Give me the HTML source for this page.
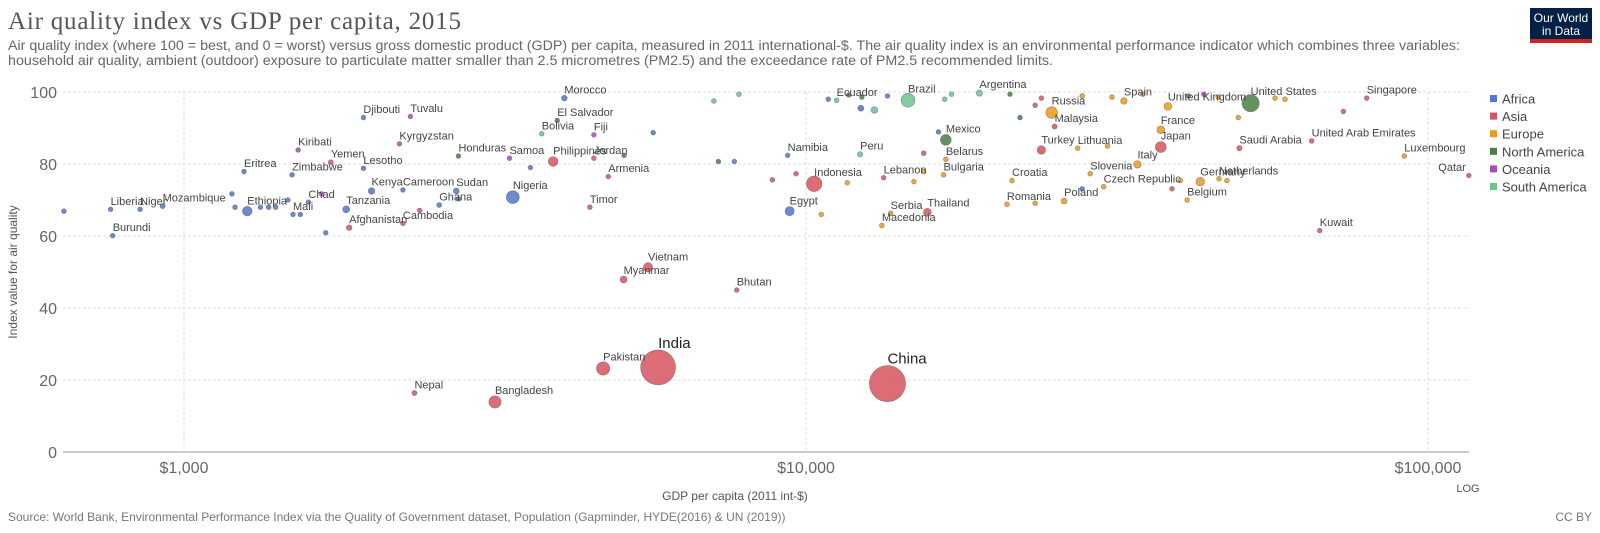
<!DOCTYPE html>
<html><head><meta charset="utf-8"><style>
body{margin:0;background:#fff;}
svg{display:block;font-family:"Liberation Sans",sans-serif;}
</style></head><body>
<svg id="chart" width="1600" height="533" viewBox="0 0 1600 533">
<text x="8" y="29" font-family="Liberation Serif,serif" font-size="25" fill="#555" textLength="453">Air quality index vs GDP per capita, 2015</text>
<text x="8" y="50" font-size="13.5" fill="#666" textLength="1452" lengthAdjust="spacingAndGlyphs">Air quality index (where 100 = best, and 0 = worst) versus gross domestic product (GDP) per capita, measured in 2011 international-$. The air quality index is an environmental performance indicator which combines three variables:</text>
<text x="8" y="65" font-size="13.5" fill="#666" textLength="1045" lengthAdjust="spacingAndGlyphs">household air quality, ambient (outdoor) exposure to particulate matter smaller than 2.5 micrometres (PM2.5) and the exceedance rate of PM2.5 recommended limits.</text>
<g>
<rect x="1530" y="8" width="62" height="35" fill="#002147"/>
<rect x="1530" y="39" width="62" height="4" fill="#ce261e"/>
<text x="1561" y="22" font-size="12" fill="#fff" text-anchor="middle">Our World</text>
<text x="1561" y="35" font-size="12" fill="#fff" text-anchor="middle">in Data</text>
</g>
<g id="grid"></g>
<g id="dots"></g>
<g id="labels"></g>
<text transform="translate(17,272) rotate(-90)" font-size="12" fill="#555" text-anchor="middle">Index value for air quality</text>
<text x="735" y="500" font-size="12" fill="#555" text-anchor="middle">GDP per capita (2011 int-$)</text>
<text x="1468" y="492" font-size="11" fill="#555" text-anchor="middle">LOG</text>
<g id="legend"></g>
<text x="8" y="521" font-size="12" fill="#777">Source: World Bank, Environmental Performance Index via the Quality of Government dataset, Population (Gapminder, HYDE(2016) &amp; UN (2019))</text>
<text x="1592" y="521" font-size="12" fill="#777" text-anchor="end">CC BY</text>
</svg>
<script>
const regions=["Africa","Asia","Europe","North America","Oceania","South America"];
const regionColors=["#5476c8","#d6545f","#ea9a1c","#4a7f45","#a550b5","#6cc38c"];
const names=["Burundi","Liberia","Niger","Mozambique","Ethiopia","Afghanistan","Mali","Chad","Eritrea","Zimbabwe","Kiribati","Yemen","Djibouti","Tuvalu","Kyrgyzstan","Lesotho","Kenya","Tanzania","Cameroon","Cambodia","Ghana","Sudan","Honduras","Samoa","Nigeria","Philippines","Bolivia","El Salvador","Morocco","Fiji","Jordan","Armenia","Timor","Namibia","Indonesia","Egypt","Peru","Ecuador","Brazil","Mexico","Belarus","Bulgaria","Lebanon","Serbia","Macedonia","Thailand","Romania","Croatia","Argentina","Russia","Malaysia","Turkey","Lithuania","Poland","Slovenia","Czech Republic","Italy","Spain","France","Japan","United Kingdom","United States","Germany","Netherlands","Belgium","Saudi Arabia","United Arab Emirates","Singapore","Luxembourg","Qatar","Kuwait","Vietnam","Myanmar","Bhutan","India","Pakistan","China","Nepal","Bangladesh",
"","","","","","","","","","","","","","","","","","","","","","","","","","","","","","","","","","","","","","","","","","","","","","","","","","","",""];
const gdp=[768,762,850,924,1264,1843,1497,1585,1249,1492,1526,1722,1943,2312,2220,1943,2002,1823,2249,2249,2572,2740,2762,3336,3378,3922,3760,3981,4088,4560,4560,4810,4493,9343,10306,9413,12218,11200,14590,16780,16780,16640,13330,13680,13240,15670,21040,21440,19000,24830,25100,23900,27340,26000,28640,30100,34110,32440,37190,37190,38170,51860,43040,46130,41000,49750,65000,79700,91600,116300,66980,5572,5090,7738,5784,4719,13520,2347,3162,
641,1194,1327,1368,1404,1208,1538,1690,1664,1469,2393,2762,3605,5100,5680,7800,7110,10860,11720,12300,13520,12250,12880,16710,17140,21280,16330,22080,23900,23360,27800,31040,34800,41200,43600,46000,49550,56760,58890,73100,30540,39960,38760,47500,27800,15460,14910,23360,9640,11650,10580,15460,7230,7670,8830];
const aqi=[60.1,67.4,67.4,68.3,66.9,62.3,66,69.4,77.9,77,83.9,80.5,92.9,93.2,85.6,78.8,72.5,67.4,72.8,63.5,68.6,72.5,82.2,81.6,70.8,80.7,88.4,92.1,98.3,88.1,81.6,76.5,68,82.4,74.5,66.9,82.7,97.7,97.7,86.7,81.3,77,76.2,66.3,62.9,66.6,68.8,75.4,99.7,94.3,90.4,83.9,84.4,69.7,77.3,73.7,79.9,97.5,89.5,84.7,96,96.9,75.1,75.9,70,84.4,86.4,98.3,82.2,76.8,61.5,51.3,47.9,45,23.5,23.2,19,16.4,13.9,
66.9,71.7,68,68,68,68,66,60.9,71.7,70,67.1,70.3,79,82.4,88.7,99.4,97.5,98,99.2,98.6,98.9,95.5,95,98,99.4,99.4,88.9,92.9,98.3,96.3,98.9,98.6,99.4,98.9,99.4,98.6,92.9,98.3,98,94.6,85,75.4,73.1,75.4,73.1,83,75.1,69.1,77.3,74.8,66,77.9,80.7,80.7,75.6];
const population=[10,4.5,20,28,100,34,17,14,5,15,0.1,27,0.9,0.01,6,2,47,53,23,15,27,39,9,0.2,180,101,11,6,34,0.9,9,3,1.2,2.4,258,92,31,16,205,125,9.5,7.2,6,7,2,68,20,4.2,43,144,30,78,2.9,38,2,10.5,60,46,66,127,65,320,81,17,11,31,9,5.5,0.6,2.5,3.9,92,53,0.8,1310,190,1400,28,160,
3,3,3,12,12,3,3,5,0.5,3,6,5,3,3,3,3,3,3,0.5,0.5,12,40,48,1,1,18,3,3,3,3,3,3,3,3,24,3,3,3,3,3,3,3,3,3,3,3,3,3,3,3,3,3,3,3,3];
const regionIdx=[0,0,0,0,0,1,0,0,0,0,4,1,0,4,1,0,0,0,0,1,0,0,3,4,0,1,5,3,0,4,1,1,1,0,1,0,5,5,5,3,2,2,1,2,2,1,2,2,5,2,1,1,2,2,2,2,2,2,2,1,2,3,2,2,2,1,1,1,2,1,1,1,1,1,1,1,1,1,1,
0,0,0,0,0,0,0,0,4,0,1,0,0,3,0,5,5,0,3,3,0,0,5,5,5,3,0,3,1,1,2,2,2,4,4,2,2,2,2,1,2,2,1,2,0,1,2,2,1,2,2,2,3,0,1];
const yTicks=[0,20,40,60,80,100];
const xTicks=[1000,10000,100000];
const xTickLabels=["$1,000","$10,000","$100,000"];

const NS="http://www.w3.org/2000/svg";
const L=63,R=1469;
function X(v){return 806+622*(Math.log10(v)-4);}
function Y(v){return 452-3.6*v;}
function mk(t,a,p){const e=document.createElementNS(NS,t);for(const k in a)e.setAttribute(k,a[k]);p.appendChild(e);return e;}
const grid=document.getElementById('grid');
yTicks.forEach((t,i)=>{
  const ln=mk('line',{x1:L,x2:R,y1:Y(t),y2:Y(t),stroke:t===0?'#ccc':'#ddd','stroke-width':t===0?2:1,'stroke-dasharray':t===0?'':'3,2'},grid);
  
  
  const tx=mk('text',{x:57,y:Y(t)+6,'font-size':16,fill:'#666','text-anchor':'end'},grid);
  tx.textContent=t;
  
  
});
xTicks.forEach((t,i)=>{
  const ln=mk('line',{x1:X(t),x2:X(t),y1:Y(100),y2:Y(0),stroke:'#ddd','stroke-dasharray':'3,2'},grid);
  
  
  const tx=mk('text',{x:X(t),y:473,'font-size':16,fill:'#666','text-anchor':'middle'},grid);
  tx.textContent=xTickLabels[i];
  
  
});
const dots=document.getElementById('dots'),labels=document.getElementById('labels');
const order=gdp.map((_,i)=>i).sort((a,b)=>population[b]-population[a]);
order.forEach(i=>{
  const r=Math.max(2.4,17.5*Math.sqrt(population[i]/1310));
  const cx=X(gdp[i]),cy=Y(aqi[i]);
  const c=mk('circle',{cx:cx,cy:cy,r:r,fill:regionColors[regionIdx[i]],'fill-opacity':0.85,stroke:'#555','stroke-opacity':0.6,'stroke-width':0.6},dots);
  
  
  if(names[i]){
    const big=r>15;
    const right=cx>1440;
    const t=mk('text',{x:right?cx-3:cx,y:big?cy-r-2:cy-Math.min(r,6)-2,'font-size':big?15:11,fill:big?'#222':'#444','text-anchor':right?'end':'start'},labels);
    t.textContent=names[i];
    
    
  }
});
const lg=document.getElementById('legend');
regions.forEach((r,i)=>{
  const y=99+17.6*i;
  const s=mk('rect',{x:1490,y:y-4,width:7,height:7,fill:regionColors[i]},lg);
  
  
  const t=mk('text',{x:1502,y:y+4.5,'font-size':13,fill:'#444'},lg);
  t.textContent=r;
  
  
});
</script>
</body></html>
